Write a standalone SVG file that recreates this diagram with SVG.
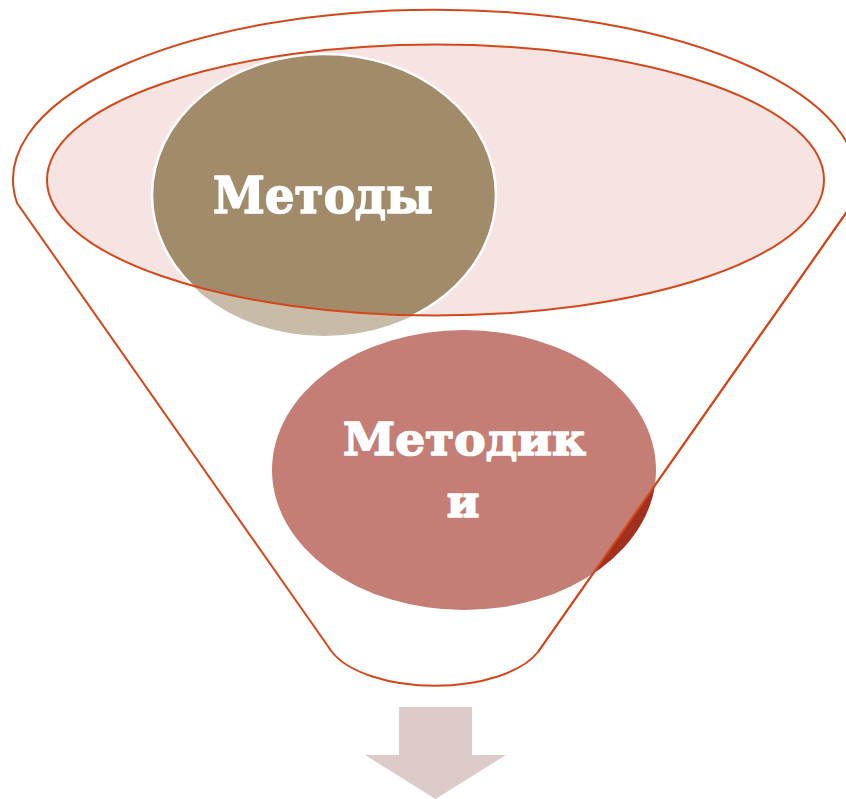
<svg xmlns="http://www.w3.org/2000/svg" width="846" height="799" viewBox="0 0 846 799">
<style>
.ln{fill:none;stroke:#d2481a;stroke-width:2}
.lbl{font-family:"DejaVu Serif",serif;font-weight:bold;fill:#ffffff;stroke:#ffffff;stroke-width:1.6;stroke-linejoin:round;text-anchor:middle}
</style>
<defs>
<clipPath id="inEll"><ellipse cx="435.5" cy="180" rx="388.5" ry="135.5"/></clipPath>
<clipPath id="outRight"><polygon points="853,203 538,652 846,652 846,203"/></clipPath>
</defs>
<rect width="846" height="799" fill="#ffffff"/>
<g id="funnel">
<path class="ln" d="M17,203 A422,170 0 1 1 853,203 L538,652 A110,52 0 0 1 332,652 Z"/>
</g>
<g id="inner-ellipse">
<ellipse cx="435.5" cy="180" rx="388.5" ry="135.5" fill="#f6e4e3"/>
</g>
<g id="metody">
<ellipse cx="324" cy="195" rx="172" ry="141" fill="#c8bca8"/>
<ellipse cx="324" cy="195" rx="172" ry="141" fill="#a28b6a" clip-path="url(#inEll)"/>
<ellipse cx="324" cy="195" rx="172" ry="141" fill="none" stroke="#ffffff" stroke-width="2.5" clip-path="url(#inEll)"/>
<text class="lbl" x="323" y="213" font-size="50" textLength="220" lengthAdjust="spacingAndGlyphs">Методы</text>
</g>
<g id="metodiki">
<ellipse cx="464" cy="470" rx="192" ry="140" fill="#c47e75"/>
<ellipse cx="464" cy="470" rx="192" ry="140" fill="#a3301f" clip-path="url(#outRight)"/>
<text class="lbl" font-size="44"><tspan x="464.5" y="455" textLength="243" lengthAdjust="spacingAndGlyphs">Методик</tspan><tspan x="463" y="517">и</tspan></text>
</g>
<g id="connectors">
<ellipse class="ln" cx="435.5" cy="180" rx="388.5" ry="135.5"/>
<line class="ln" x1="853" y1="203" x2="538" y2="652"/>
</g>
<g id="arrow">
<polygon points="399,707 472,707 472,755 506,755 435.5,799 365,755 399,755" fill="#ddcbca"/>
</g>
</svg>
